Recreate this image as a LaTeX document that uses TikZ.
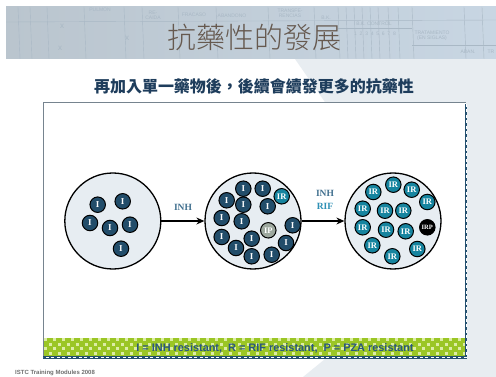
\documentclass[tikz,border=0pt]{standalone}
\usepackage{fontspec}
\setmainfont{Liberation Serif}
\setsansfont{Liberation Sans}
\newfontfamily\cjk{Noto Sans CJK TC}
\newfontfamily\cjkl{Noto Sans CJK TC Light}
\usetikzlibrary{arrows.meta}
\definecolor{bggray}{HTML}{E8EDF1}
\definecolor{bannerL}{HTML}{BAC5CE}
\definecolor{bannerR}{HTML}{C8D6E3}
\definecolor{gridc}{HTML}{A9B8C5}
\definecolor{titlecol}{HTML}{66594F}
\definecolor{subcol}{HTML}{1E3D5C}
\definecolor{cellbg}{HTML}{E7EDF2}
\definecolor{bacI}{HTML}{224D6A}
\definecolor{bacR}{HTML}{16849F}
\definecolor{bacP}{HTML}{9DA89E}
\definecolor{inhcol}{HTML}{41708F}
\definecolor{rifcol}{HTML}{2E90B5}
\definecolor{navy}{HTML}{24506F}
\definecolor{legendcol}{HTML}{2A5780}
\definecolor{boxgray}{HTML}{76848F}
\definecolor{checkG}{HTML}{9BC625}
\definecolor{checkL}{HTML}{DDEDA6}
\definecolor{footcol}{HTML}{6F6F6F}
\tikzset{
  big/.style={circle, draw=black, line width=1.3pt, fill=cellbg, minimum size=96pt, inner sep=0pt},
  bac/.style={circle, draw=black, line width=1pt, minimum size=15.5pt, inner sep=0pt, text=white, font=\bfseries\fontsize{9}{9}\selectfont},
  bI/.style={bac, fill=bacI},
  bR/.style={bac, fill=bacR, font=\bfseries\fontsize{8.5}{8.5}\selectfont},
  bP/.style={bac, fill=bacP, font=\bfseries\fontsize{8.5}{8.5}\selectfont},
  bRP/.style={bac, fill=black, font=\bfseries\fontsize{6.5}{6.5}\selectfont},
  arr/.style={draw=black, line width=1.1pt, -{Stealth[length=8pt,width=7pt]}},
  druglbl/.style={font=\bfseries\fontsize{9.5}{9.5}\selectfont, inner sep=0pt},
  faint/.style={font=\sffamily\fontsize{5}{5}\selectfont, text=gridc, inner sep=0pt, align=center},
}
\begin{document}
\begin{tikzpicture}[x=1pt,y=-1pt]
\useasboundingbox (0,0) rectangle (496,377);
% background
\fill[white] (0,0) rectangle (496,377);
\fill[bggray] (295,59) -- (496,59) -- (496,377) -- (303,377) -- (439,266) -- cycle;
% banner
\shade[left color=bannerL, right color=bannerR] (6,7) rectangle (496,59);
\begin{scope}
\clip (6,7) rectangle (496,59);
\foreach \x in {18,30,47,84,124,142,178,216,268,314,338,346,354,362,370,378,388,398,412,464,482}
  \draw[gridc, line width=0.4pt] (\x,7) -- (\x+2,59);
\draw[gridc, line width=0.4pt] (6,22) -- (496,20);
\draw[gridc, line width=0.4pt] (338,28) -- (412,28);
\draw[gridc, line width=0.4pt] (412,45) -- (496,45);
\node[faint] (f1) at (100,10) {PULMON};
\node[faint] (f2) at (153,15) {RE-\\CAIDA};
\node[faint] (f3) at (194,15) {FRACASO};
\node[faint] (f4) at (232,16) {ABANDONO};
\node[faint] (f5) at (290,13) {TRANSFE-\\RENCIAS};
\node[faint] (f6) at (326,18) {B.K.};
\node[faint] (f7) at (374,24) {B.K. CONTROL};
\node[faint] (f8) at (375,34) {1\ \ 2\ \ 3\ \ 4\ \ 5\ \ 6\ \ 7\ \ 8};
\node[faint] (f9) at (432,36) {TRATAMIENTO\\(EN SIGLAS)};
\node[faint] (f10) at (468,52) {ABAN.};
\node[faint] (f11) at (491,52) {TR};
\node[faint, font=\sffamily\fontsize{8}{8}\selectfont] (f12) at (62,26) {x};
\node[faint, font=\sffamily\fontsize{8}{8}\selectfont] (f13) at (60,48) {x};
\node[faint, font=\sffamily\fontsize{8}{8}\selectfont] (f14) at (127,38) {x};
\end{scope}
% title
\node[font=\cjkl\fontsize{29}{29}\selectfont, text=titlecol, inner sep=0pt] (title) at (254,37) {抗藥性的發展};
\node[font=\cjk\bfseries\fontsize{16}{16}\selectfont, text=subcol, inner sep=0pt] (sub) at (254,86) {再加入單一藥物後，後續會續發更多的抗藥性};
% main box
\fill[white] (43,102) rectangle (466,357);
\draw[boxgray, line width=0.8pt] (43,357) -- (43,102) -- (466,102);
% green band
\fill[checkG] (44,338) rectangle (465,356);
\begin{scope}
\clip (44,338) rectangle (465,356);
\foreach \i in {0,...,93} {
  \foreach \j in {0,...,3} {
    \pgfmathtruncatemacro{\pp}{mod(\i+\j,2)}
    \ifnum\pp=0
      \fill[checkL] (44+\i*4.5,338+\j*4.5) rectangle ++(3.2,3.2);
    \fi
  }
}
\end{scope}
\draw[navy, line width=2.2pt] (466,104) -- (466,357.5) -- (43,357.5);
\draw[white, line width=0.5pt, dash pattern=on 3pt off 2.5pt] (466,104) -- (466,357.5) -- (43,357.5);
\node[font=\sffamily\bfseries\fontsize{10.9}{10.9}\selectfont, text=legendcol, inner sep=0pt] (legend) at (275,348) {I = INH resistant,\ \ R = RIF resistant,\ \ P = PZA resistant};
% footer
\node[font=\sffamily\bfseries\fontsize{6}{6}\selectfont, text=footcol, anchor=west, inner sep=0pt] (foot) at (15,373) {ISTC Training Modules 2008};
% big circles
\node[big] (c1) at (112.8,221) {};
\node[big] (c2) at (253,221) {};
\node[big] (c3) at (393,221) {};
\draw[arr] (c1) -- (c2);
\draw[arr] (c2) -- (c3);
\node[druglbl, text=inhcol] (l1) at (183,207) {INH};
\node[druglbl, text=inhcol] (l2) at (325,193.5) {INH};
\node[druglbl, text=rifcol] (l3) at (325,206.5) {RIF};
% circle 1 bacteria
\foreach \n/\x/\y in {1/97.7/204.7, 2/122.7/201.3, 3/90/223, 4/110/228, 5/130/224.7, 6/121/248.7}
  \node[bI] (a\n) at (\x,\y) {I};
% circle 2 bacteria
\foreach \n/\x/\y in {1/243.3/188.7, 2/262.7/188.7, 4/226.7/200.3, 5/243.3/204.7, 6/267.7/206.3, 7/221.7/218, 8/241.7/221.3, 10/292.7/225.3, 11/221.7/237, 12/251.7/238.7, 13/286/243, 14/236/248, 15/251.7/256.3, 16/271.7/254.7}
  \node[bI] (b\n) at (\x,\y) {I};
\node[bR] (b3) at (281.7,196.3) {IR};
\node[bP] (b9) at (268.3,230.3) {IP};
% circle 3 bacteria
\foreach \n/\x/\y in {1/373.3/192, 2/393.3/184.7, 3/411.7/189.7, 4/427.3/202, 5/362.7/208.7, 6/385/210.7, 7/403.3/210.7, 8/362.7/227.3, 9/386/229.7, 10/405.7/231.3, 12/372.3/245.3, 13/417.3/249, 14/392.3/256.3}
  \node[bR] (r\n) at (\x,\y) {IR};
\node[bRP] (r11) at (427.3,227.3) {IRP};
\end{tikzpicture}
\end{document}
